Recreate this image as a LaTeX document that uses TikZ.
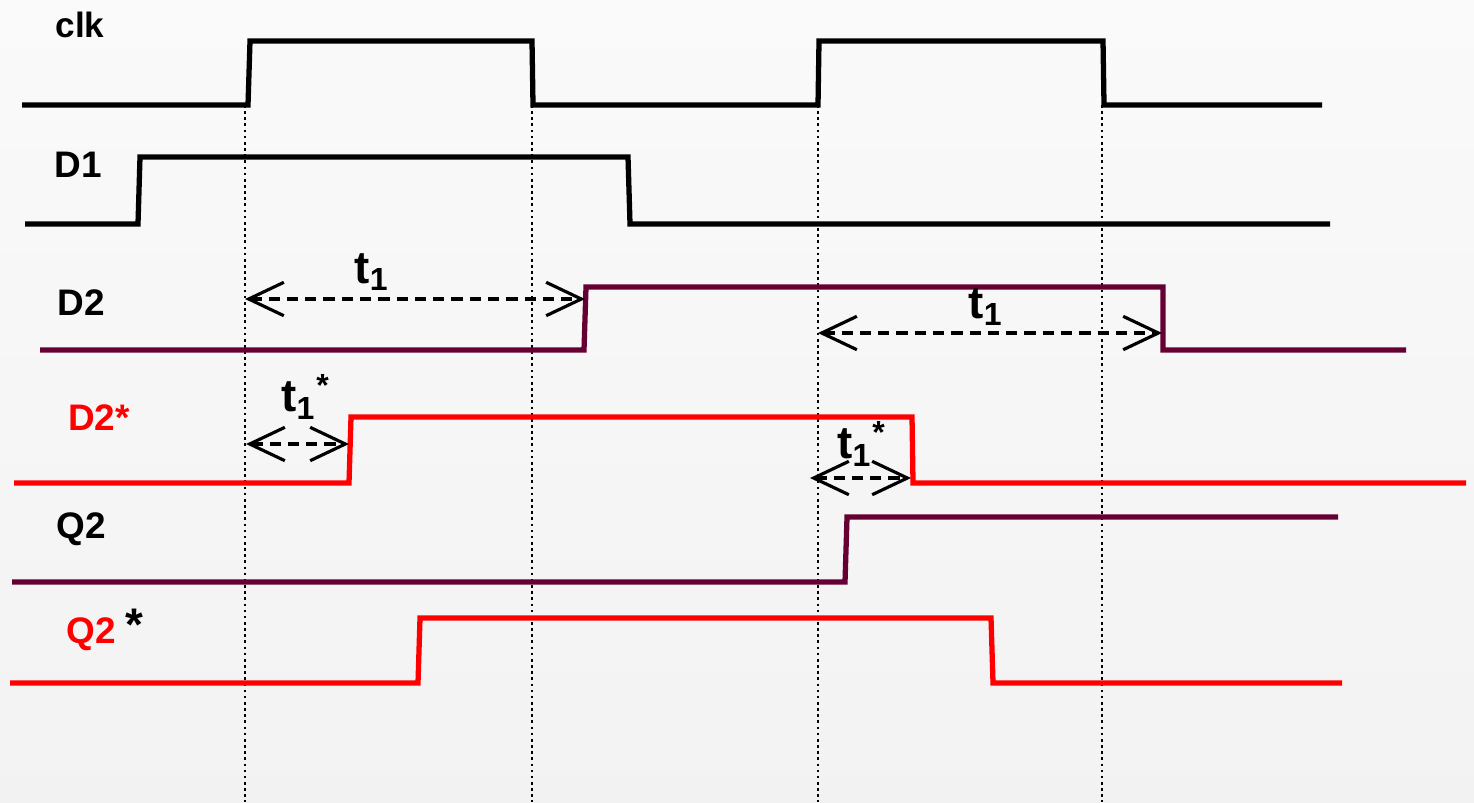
\documentclass[tikz,border=0pt]{standalone}
\usepackage{fontspec}
\setmainfont{Liberation Sans}
\usepackage{xcolor}
\usetikzlibrary{arrows.meta, positioning}
\definecolor{wine}{RGB}{102,0,51}
\definecolor{sigred}{RGB}{255,0,0}

\begin{document}
\begin{tikzpicture}[
    x=0.01cm, y=-0.01cm,
    sig/.style={line width=1.5pt, line join=miter},
    tick/.style={line width=0.75pt, dash pattern=on 0.75pt off 1pt},
    span/.style={{Straight Barb[length=10pt, width=9.5pt, line width=0.9pt]}-{Straight Barb[length=10pt, width=9.5pt, line width=0.9pt]}, dash pattern=on 3.2pt off 2pt, line width=1pt},
    lbl/.style={font=\bfseries\fontsize{10.5}{12}\selectfont, inner sep=0pt},
    tlbl/.style={font=\bfseries\fontsize{13}{15}\selectfont, inner sep=0pt}
]

% background
\fill[top color=black!2, bottom color=black!5] (0,0) rectangle (1474,802);
\useasboundingbox (0,0) rectangle (1474,802);

% clock edges
\foreach \x in {245,532,818,1102}
    \draw[tick] (\x,105) -- (\x,802);

% signals
\draw[sig] (22,105) -- (248,105) -- (250,41) -- (532,41) -- (533,105) -- (818,105) -- (819,41) -- (1103,41) -- (1104,105) -- (1322,105);
\draw[sig] (25,224) -- (138,224) -- (140,157) -- (628,157) -- (630,224) -- (1330,224);
\draw[sig, wine] (40,350) -- (584,350) -- (586,287) -- (1163,287) -- (1163,350) -- (1406,350);
\draw[sig, sigred] (14,483) -- (349,483) -- (351,417) -- (912,417) -- (913,483) -- (1466,483);
\draw[sig, wine] (12,582) -- (845,582) -- (847,517) -- (1338,517);
\draw[sig, sigred] (10,683) -- (418,683) -- (420,618) -- (991,618) -- (993,683) -- (1342,683);

% signal names
\node[lbl, font=\bfseries\fontsize{10}{12}\selectfont] (clk) at (80,25) {clk};
\node[lbl] (d1) at (78,165) {D1};
\node[lbl] (d2) at (81,303) {D2};
\node[lbl, text=sigred] (d2s) at (99,418) {D2*};
\node[lbl] (q2) at (81,529) {Q2};
\node[lbl, text=sigred] (q2s) at (105,630) {Q2 \textcolor{black}{\fontsize{13}{15}\selectfont\raisebox{1pt}{*}}};

% delays
\coordinate (a1) at (245,299);
\coordinate (b1) at (585,299);
\coordinate (a2) at (818,333);
\coordinate (b2) at (1162,333);
\coordinate (a3) at (246,444);
\coordinate (b3) at (349,444);
\coordinate (a4) at (810,478);
\coordinate (b4) at (911,478);
\draw[span] (a1) -- (b1);
\draw[span] (a2) -- (b2);
\draw[span] (a3) -- (b3);
\draw[span] (a4) -- (b4);

\node[tlbl] (t1a) at (372,272) {t\textsubscript{1}};
\node[tlbl] (t1b) at (986,307) {t\textsubscript{1}};
\node[tlbl] (t1c) at (306,397) {t\textsubscript{1}\textsuperscript{*}};
\node[tlbl] (t1d) at (862,444) {t\textsubscript{1}\textsuperscript{*}};

\end{tikzpicture}
\end{document}
